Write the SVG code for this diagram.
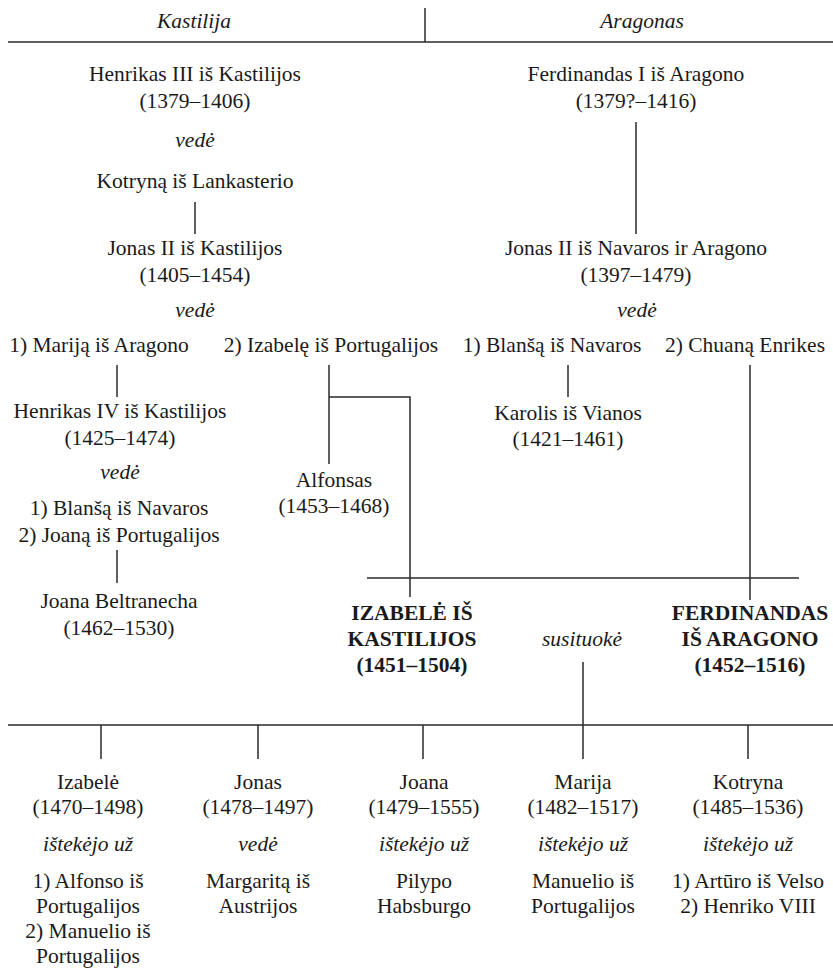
<svg xmlns="http://www.w3.org/2000/svg" width="833" height="969" viewBox="0 0 833 969" font-family="'Liberation Serif', 'Times New Roman', serif">
<style>
text{font-family:'Liberation Serif','Times New Roman',serif;font-size:21.5px;fill:#1a1a1a;text-anchor:middle}
.i{font-style:italic}
.b{font-weight:bold}
.c line,.c polyline{stroke:#2a2a2a;stroke-width:1.5;fill:none}
</style>
<rect width="833" height="969" fill="#fff"/>
<g id="header">
<text class="i" x="194" y="28">Kastilija</text>
<text class="i" x="642" y="28">Aragonas</text>
</g>
<g class="c" id="connectors">
<line x1="425" y1="8" x2="425" y2="42"/>
<line x1="8" y1="42" x2="833" y2="42" stroke-width="2"/>
<line x1="195" y1="202" x2="195" y2="234"/>
<line x1="636" y1="122" x2="636" y2="234"/>
<line x1="117" y1="365" x2="117" y2="397"/>
<line x1="117" y1="550" x2="117" y2="583"/>
<line x1="329" y1="365" x2="329" y2="464"/>
<polyline points="329,397 410,397 410,597"/>
<line x1="568" y1="365" x2="568" y2="397"/>
<line x1="750" y1="365" x2="750" y2="600"/>
<line x1="367" y1="578" x2="799" y2="578"/>
<line x1="583" y1="662" x2="583" y2="759"/>
<line x1="8" y1="725" x2="833" y2="725" stroke-width="2"/>
<line x1="101" y1="725" x2="101" y2="759"/>
<line x1="258" y1="725" x2="258" y2="759"/>
<line x1="423" y1="725" x2="423" y2="759"/>
<line x1="748" y1="725" x2="748" y2="759"/>
</g>
<g id="henrikas3"><text x="195" y="81">Henrikas III iš Kastilijos</text><text x="195" y="108">(1379–1406)</text></g>
<g id="vede1"><text class="i" x="195" y="147">vedė</text></g>
<g id="kotryna_l"><text x="195" y="188">Kotryną iš Lankasterio</text></g>
<g id="jonas2k"><text x="195" y="255">Jonas II iš Kastilijos</text><text x="195" y="282">(1405–1454)</text></g>
<g id="vede2"><text class="i" x="195" y="317">vedė</text></g>
<g id="marija_a"><text x="99" y="352">1) Mariją iš Aragono</text></g>
<g id="izabele_p"><text x="331" y="352">2) Izabelę iš Portugalijos</text></g>
<g id="henrikas4"><text x="120" y="418">Henrikas IV iš Kastilijos</text><text x="120" y="445">(1425–1474)</text></g>
<g id="vede3"><text class="i" x="120" y="479">vedė</text></g>
<g id="wives_h4"><text x="119" y="515">1) Blanšą iš Navaros</text><text x="119" y="542">2) Joaną iš Portugalijos</text></g>
<g id="joana_b"><text x="119" y="608">Joana Beltranecha</text><text x="119" y="635">(1462–1530)</text></g>
<g id="alfonsas"><text x="334" y="487">Alfonsas</text><text x="334" y="513">(1453–1468)</text></g>
<g id="ferdinandas1"><text x="636" y="81">Ferdinandas I iš Aragono</text><text x="636" y="108">(1379?–1416)</text></g>
<g id="jonas2n"><text x="636" y="255">Jonas II iš Navaros ir Aragono</text><text x="636" y="282">(1397–1479)</text></g>
<g id="vede4"><text class="i" x="637" y="317">vedė</text></g>
<g id="blansa_n"><text x="552" y="352">1) Blanšą iš Navaros</text></g>
<g id="chuana"><text x="745" y="352">2) Chuaną Enrikes</text></g>
<g id="karolis"><text x="568" y="420">Karolis iš Vianos</text><text x="568" y="446">(1421–1461)</text></g>
<g id="izabele_k"><text class="b" x="412" y="620">IZABELĖ IŠ</text><text class="b" x="412" y="646">KASTILIJOS</text><text class="b" x="412" y="672">(1451–1504)</text></g>
<g id="susituoke"><text class="i" x="582" y="646">susituokė</text></g>
<g id="ferdinandas_a"><text class="b" x="750" y="620">FERDINANDAS</text><text class="b" x="750" y="646">IŠ ARAGONO</text><text class="b" x="750" y="672">(1452–1516)</text></g>
<g id="c_izabele"><text x="88" y="789">Izabelė</text><text x="88" y="814">(1470–1498)</text><text class="i" x="88" y="851">ištekėjo už</text><text x="88" y="888">1) Alfonso iš</text><text x="88" y="913">Portugalijos</text><text x="88" y="938">2) Manuelio iš</text><text x="88" y="963">Portugalijos</text></g>
<g id="c_jonas"><text x="258" y="789">Jonas</text><text x="258" y="814">(1478–1497)</text><text class="i" x="258" y="851">vedė</text><text x="258" y="888">Margaritą iš</text><text x="258" y="913">Austrijos</text></g>
<g id="c_joana"><text x="424" y="789">Joana</text><text x="424" y="814">(1479–1555)</text><text class="i" x="424" y="851">ištekėjo už</text><text x="424" y="888">Pilypo</text><text x="424" y="913">Habsburgo</text></g>
<g id="c_marija"><text x="583" y="789">Marija</text><text x="583" y="814">(1482–1517)</text><text class="i" x="583" y="851">ištekėjo už</text><text x="583" y="888">Manuelio iš</text><text x="583" y="913">Portugalijos</text></g>
<g id="c_kotryna"><text x="748" y="789">Kotryna</text><text x="748" y="814">(1485–1536)</text><text class="i" x="748" y="851">ištekėjo už</text><text x="748" y="888">1) Artūro iš Velso</text><text x="748" y="913">2) Henriko VIII</text></g>
</svg>
